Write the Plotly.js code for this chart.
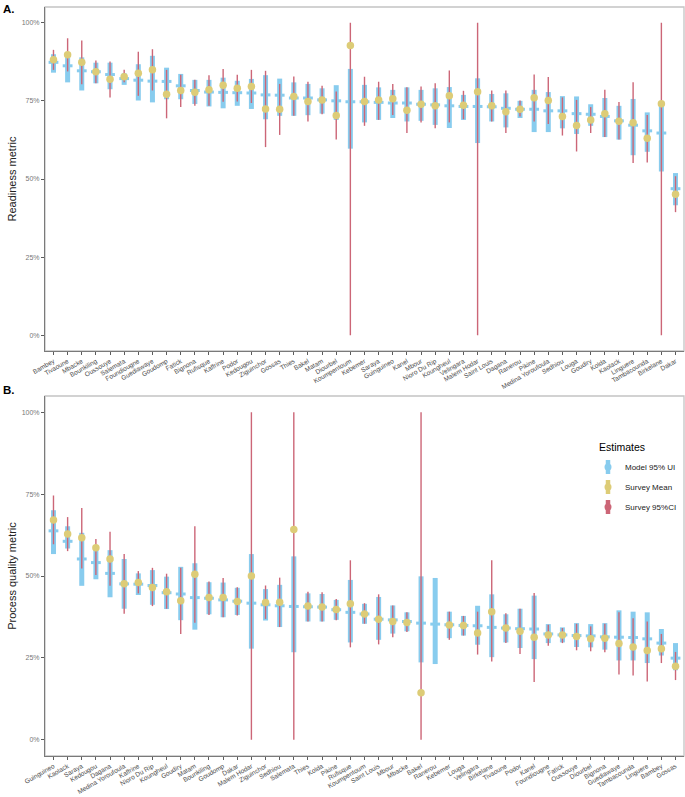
<!DOCTYPE html>
<html>
<head>
<meta charset="utf-8">
<script src="https://cdn.plot.ly/plotly-3.0.1.min.js"></script>
<style>html,body{margin:0;padding:0;background:#fff;}#chart{width:685px;height:797px;}</style>
</head>
<body>
<div id="chart"></div>
<script>
// ---------- Panel A: Readiness metric ----------
const catsA = ['Bambey','Tivaoune','Mbacke','Bounkiling','Oussouye','Salemata','Foundiougne','Guediawaye','Goudomp','Fatick','Bignona','Rufisque','Kaffrine','Podor','Kedougou','Ziguinchor','Gossas','Thies','Bakel','Matam','Diourbel','Koumpentoum','Kebemer','Saraya','Guinguineo','Kanel','Mbour','Nioro Du Rip','Koungheul','Velingara','Malem Hodar','Saint Louis','Dagana','Ranerou','Pikine','Medina Yoroufoula','Sedhiou','Louga','Goudiry','Kolda','Kaolack','Linguere','Tambacounda','Birkelane','Dakar'];
const modelLowA  = [84.0,80.9,78.3,80.6,78.7,80.1,75.1,74.5,75.5,75.5,74.0,73.2,72.6,73.4,72.4,69.1,70.2,70.2,70.4,70.9,68.9,59.7,68.1,68.9,69.5,68.4,68.6,67.3,66.3,68.9,61.5,68.4,66.5,69.5,65.0,65.0,66.2,64.4,67.0,63.4,62.6,57.6,58.7,52.4,41.6];
const modelMidA  = [87.3,86.2,84.6,84.3,83.4,82.1,81.6,81.3,81.2,79.8,78.3,77.8,77.7,77.6,77.5,76.9,76.8,75.9,75.9,75.3,75.0,74.7,74.7,74.5,74.3,74.3,73.9,73.7,73.4,73.2,73.2,73.1,72.6,72.3,72.3,71.8,71.8,70.9,70.7,70.0,68.6,67.2,65.4,64.7,46.9];
const modelHighA = [89.9,88.9,88.9,87.2,87.2,83.8,86.7,89.4,85.6,83.6,81.7,81.7,82.4,81.4,82.0,83.2,82.1,80.9,80.4,79.0,80.0,85.2,80.1,79.3,78.5,79.3,78.5,79.0,79.4,76.9,82.2,77.2,77.4,75.0,78.5,77.8,76.5,76.4,73.9,75.9,73.4,75.6,71.3,74.3,51.9];
const surveyMeanA = [88.1,89.7,87.3,84.3,81.9,82.7,83.8,84.9,77.1,78.3,77.7,78.5,80.0,79.0,79.6,72.4,72.3,76.4,74.8,75.3,70.3,92.7,74.8,75.3,75.7,72.0,73.9,73.4,76.6,73.6,77.9,73.4,71.5,72.3,76.0,75.1,70.0,67.1,68.9,70.9,68.5,68.0,63.0,74.1,45.1];
const surveyLowA  = [84.9,84.4,80.3,80.6,76.1,80.9,76.6,78.3,69.4,73.0,73.4,73.4,74.7,74.8,74.3,60.2,64.1,70.2,68.4,70.7,62.6,0,67.0,68.9,70.5,64.7,68.1,66.2,68.1,69.1,0,68.4,64.7,70.0,68.4,67.6,63.9,58.8,64.7,63.4,62.6,55.1,55.3,0,39.4];
const surveyHighA = [91.3,95.0,94.3,87.9,87.6,84.9,90.7,91.5,84.9,83.3,81.7,83.2,85.2,83.3,84.9,84.6,80.4,82.8,81.1,79.8,78.0,100,82.7,81.1,80.4,79.3,79.6,80.6,84.7,78.2,100,78.3,78.3,75.1,83.4,82.6,76.1,75.3,73.0,78.5,74.6,80.9,70.5,100,50.9];

// ---------- Panel B: Process quality metric ----------
const catsB = ['Guinguineo','Kaolack','Saraya','Kedougou','Dagana','Medina Yoroufoula','Kaffrine','Nioro Du Rip','Koungheul','Goudiry','Matam','Bounkiling','Goudomp','Dakar','Malem Hodar','Ziguinchor','Sedhiou','Salemata','Thies','Kolda','Pikine','Rufisque','Koumpentoum','Saint Louis','Mbour','Mbacke','Bakel','Ranerou','Kebemer','Louga','Velingara','Birkelane','Tivaoune','Podor','Kanel','Foundiougne','Fatick','Oussouye','Diourbel','Bignona','Guediawaye','Tambacounda','Linguere','Bambey','Gossas'];
const modelLowB  = [56.7,58.4,47.0,49.0,43.5,40.0,44.2,41.2,39.9,36.5,33.6,38.3,37.4,38.1,27.8,36.4,34.4,26.7,36.1,36.1,36.6,29.7,35.4,30.5,32.4,33.1,23.6,23.1,31.0,31.8,29.0,25.2,29.7,28.0,24.6,29.5,29.7,28.3,28.2,27.5,24.2,24.2,23.4,25.7,21.2];
const modelMidB  = [63.8,60.6,55.2,54.1,50.8,47.6,47.5,47.1,44.9,44.5,43.4,43.2,42.7,42.3,41.7,41.2,40.9,40.7,40.6,40.5,39.7,38.9,38.4,36.8,36.6,36.1,35.6,35.3,35.1,34.9,34.8,34.3,34.1,33.9,33.8,32.3,32.0,31.8,31.7,31.4,31.3,31.2,30.8,29.5,24.9];
const modelHighB = [70.1,65.2,63.2,59.1,57.9,55.2,50.8,51.8,49.8,52.8,53.9,48.1,48.0,46.4,56.7,46.0,47.3,56.0,44.7,44.5,42.7,48.8,41.5,43.6,41.0,38.9,49.9,49.4,39.1,37.8,40.9,44.4,38.3,40.0,44.0,35.3,34.3,35.6,35.3,35.6,39.5,39.1,38.9,33.8,29.5];
const surveyMeanB = [67.1,62.8,61.7,58.6,55.2,47.6,48.0,46.5,45.2,42.4,50.5,43.4,43.4,42.2,50.0,41.9,42.0,64.2,40.8,40.5,39.8,41.5,38.4,36.8,36.1,35.8,14.3,null,35.0,34.9,32.6,39.1,34.1,33.1,31.3,32.0,32.0,31.5,30.8,31.0,29.4,28.3,27.2,27.8,22.4];
const surveyLowB  = [59.7,57.6,52.3,50.3,47.0,38.5,44.7,40.8,40.0,32.3,35.7,38.1,37.4,37.9,0,36.9,34.4,0,36.1,36.1,36.5,28.2,35.4,29.1,31.3,32.9,0,null,30.5,31.8,26.0,23.9,29.5,26.2,17.6,28.7,29.5,27.3,27.0,26.7,19.9,19.6,17.8,23.4,18.2];
const surveyHighB = [74.6,68.0,70.8,61.3,63.5,56.7,51.5,52.5,50.7,52.5,65.2,48.3,49.4,46.6,100,47.1,49.5,100,45.2,45.0,43.0,54.8,41.7,44.4,41.0,38.9,100,null,39.1,37.8,39.1,54.8,38.6,40.0,44.8,35.1,34.1,35.4,34.6,35.4,38.9,37.1,36.1,32.3,26.8];

const tickVals = [0,25,50,75,100];
const tickText = ['0%','25%','50%','75%','100%'];
const legendLabels = ['Model 95% UI','Survey Mean','Survey 95%CI'];

const BLUE = '#88CCEE', SAND = '#DDCC77', ROSE = '#CC6677';
const FONT = 'Liberation Sans, Arial, Helvetica, sans-serif';

function plus(mid, hi){ return mid.map((m,i)=> (m==null||hi[i]==null)?null:hi[i]-m); }
function minus(mid, lo){ return mid.map((m,i)=> (m==null||lo[i]==null)?null:m-lo[i]); }

function panelTraces(cats, mLo, mMid, mHi, sMean, sLo, sHi, xa, ya){
  return [
    { type:'scatter', mode:'markers', x:cats, y:mMid, xaxis:xa, yaxis:ya, showlegend:false, hoverinfo:'skip',
      marker:{symbol:'line-ew', size:7, color:BLUE, line:{color:BLUE, width:3}},
      error_y:{type:'data', symmetric:false, array:plus(mMid,mHi), arrayminus:minus(mMid,mLo), thickness:5, width:0, color:BLUE} },
    { type:'scatter', mode:'markers', x:cats, y:sMean, xaxis:xa, yaxis:ya, showlegend:false, hoverinfo:'skip',
      marker:{symbol:'circle', size:7.5, color:SAND, line:{width:0}},
      error_y:{type:'data', symmetric:false, array:plus(sMean,sHi), arrayminus:minus(sMean,sLo), thickness:1.4, width:0, color:ROSE} }
  ];
}

const data = [].concat(
  panelTraces(catsA, modelLowA, modelMidA, modelHighA, surveyMeanA, surveyLowA, surveyHighA, 'x', 'y'),
  panelTraces(catsB, modelLowB, modelMidB, modelHighB, surveyMeanB, surveyLowB, surveyHighB, 'x2', 'y2')
);

const W = 685, H = 797, ML = 45, MR = 1, MT = 7, MB = 41;
const PW = W-ML-MR, PH = H-MT-MB;
const px = v => (v-ML)/PW;
const py = v => (H-MB-v)/PH;

const xaxisCommon = {type:'category', range:[-0.6, 44.6], showgrid:false, zeroline:false,
  showline:true, linecolor:'#7a7a7a', linewidth:1, ticks:'outside', ticklen:3, tickcolor:'#333', tickwidth:0.8,
  tickangle:-30, tickfont:{family:FONT, size:6.5, color:'#4d4d4d'}, automargin:false};
const yaxisCommon = {range:[-5,105], tickvals:tickVals, ticktext:tickText, showgrid:false, zeroline:false,
  showline:true, linecolor:'#7a7a7a', linewidth:1, ticks:'outside', ticklen:3, tickcolor:'#333', tickwidth:0.8,
  tickfont:{family:FONT, size:7, color:'#777'}, automargin:false};

const shapes = [
  {type:'rect', xref:'x domain', yref:'y domain', x0:0, x1:1, y0:0, y1:1, line:{color:'#c4c4c4', width:1.3}, layer:'below'},
  {type:'rect', xref:'x2 domain', yref:'y2 domain', x0:0, x1:1, y0:0, y1:1, line:{color:'#c4c4c4', width:1.3}, layer:'below'}
];
const legendColors = [BLUE, SAND, ROSE];
const legendY = [467, 487, 507];
const annotations = [
  {text:'<b>A.</b>', xref:'paper', yref:'paper', x:px(1), y:py(9), xanchor:'left', yanchor:'middle', showarrow:false, font:{family:FONT, size:11.5, color:'#000'}},
  {text:'<b>B.</b>', xref:'paper', yref:'paper', x:px(1), y:py(390), xanchor:'left', yanchor:'middle', showarrow:false, font:{family:FONT, size:11.5, color:'#000'}},
  {text:'Estimates', xref:'paper', yref:'paper', x:px(597), y:py(447), xanchor:'left', yanchor:'middle', showarrow:false, font:{family:FONT, size:10.5, color:'#000'}}
];
legendLabels.forEach((lab,i)=>{
  const yc = legendY[i];
  shapes.push({type:'line', xref:'paper', yref:'paper', x0:px(608), x1:px(608), y0:py(yc+7), y1:py(yc-7), line:{color:legendColors[i], width:4.5}});
  shapes.push({type:'circle', xref:'paper', yref:'paper', x0:px(604.5), x1:px(611.5), y0:py(yc+3.5), y1:py(yc-3.5), fillcolor:legendColors[i], line:{width:0}});
  annotations.push({text:lab, xref:'paper', yref:'paper', x:px(623), y:py(yc), xanchor:'left', yanchor:'middle', showarrow:false, font:{family:FONT, size:8, color:'#222'}});
});

const layout = {
  width:W, height:H, margin:{l:ML, r:MR, t:MT, b:MB, pad:0},
  paper_bgcolor:'#fff', plot_bgcolor:'#fff', showlegend:false,
  font:{family:FONT},
  xaxis: Object.assign({}, xaxisCommon, {domain:[0,1], anchor:'y'}),
  yaxis: Object.assign({}, yaxisCommon, {domain:[py(351),1], anchor:'x', title:{text:'Readiness metric', font:{family:FONT, size:11, color:'#222'}, standoff:2}}),
  xaxis2: Object.assign({}, xaxisCommon, {domain:[0,1], anchor:'y2'}),
  yaxis2: Object.assign({}, yaxisCommon, {domain:[0,py(396)], anchor:'x2', title:{text:'Process quality metric', font:{family:FONT, size:11, color:'#222'}, standoff:2}}),
  shapes: shapes,
  annotations: annotations
};

Plotly.newPlot('chart', data, layout, {displayModeBar:false, staticPlot:true});
</script>
</body>
</html>
